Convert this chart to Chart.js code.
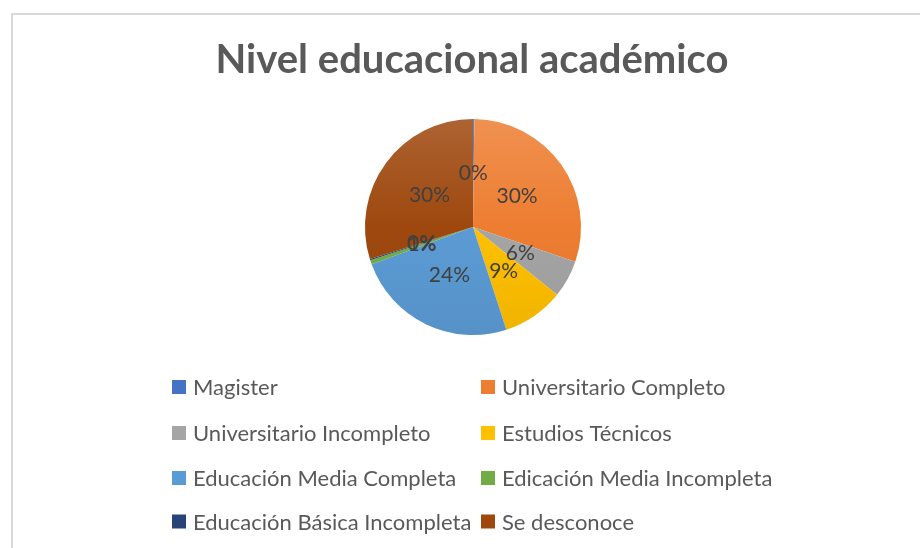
<!DOCTYPE html>
<html>
<head>
<meta charset="utf-8">
<script src="https://cdn.jsdelivr.net/npm/chart.js@4/dist/chart.umd.min.js"></script>
<style>
  html, body { margin: 0; padding: 0; background: #ffffff; }
  #wrap { position: relative; width: 920px; height: 548px; overflow: hidden; }
  #frame { position: absolute; left: 11px; top: 13px; width: 930px; height: 560px; border: 2px solid #d9d9d9; box-sizing: border-box; }
  canvas { position: absolute; left: 0; top: 0; }
</style>
</head>
<body>
<div id="wrap">
  <div id="frame"></div>
  <canvas id="c" width="920" height="548"></canvas>
</div>
<script>
const chartTitle = 'Nivel educacional académico';
const categories = [
  'Magister',
  'Universitario Completo',
  'Universitario Incompleto',
  'Estudios Técnicos',
  'Educación Media Completa',
  'Edicación Media Incompleta',
  'Educación Básica Incompleta',
  'Se desconoce'
];
const values = [0.2, 30.0, 5.6, 9.2, 24.4, 0.6, 0.2, 29.8];
const colors = ['#4472C4', '#ED7D31', '#A5A5A5', '#FFC000', '#5B9BD5', '#70AD47', '#264478', '#9E480E'];

function shade(hex, amt) {
  const n = parseInt(hex.slice(1), 16);
  let r = (n >> 16) & 255, g = (n >> 8) & 255, b = n & 255;
  if (amt >= 0) { r += (255 - r) * amt; g += (255 - g) * amt; b += (255 - b) * amt; }
  else { r *= (1 + amt); g *= (1 + amt); b *= (1 + amt); }
  return 'rgb(' + Math.round(r) + ',' + Math.round(g) + ',' + Math.round(b) + ')';
}

const FONT = 'Lato, "Open Sans", sans-serif';

const labelPlugin = {
  id: 'pctLabels',
  afterDatasetsDraw(chart) {
    const ctx = chart.ctx;
    const meta = chart.getDatasetMeta(0);
    const data = chart.data.datasets[0].data;
    const total = data.reduce((a, b) => a + b, 0);
    ctx.save();
    ctx.font = '21px ' + FONT;
    ctx.fillStyle = '#404040';
    ctx.textAlign = 'center';
    ctx.textBaseline = 'middle';
    meta.data.forEach((arc, i) => {
      const p = arc.tooltipPosition();
      ctx.fillText(Math.round(data[i] / total * 100) + '%', p.x, p.y);
    });
    ctx.restore();
  }
};

const textPlugin = {
  id: 'titleLegend',
  afterDraw(chart) {
    const ctx = chart.ctx;
    ctx.save();
    ctx.fillStyle = '#595959';
    ctx.font = 'bold 40px ' + FONT;
    ctx.textAlign = 'center';
    ctx.textBaseline = 'middle';
    ctx.fillText(chartTitle, 472, 60);
    ctx.font = '22px ' + FONT;
    ctx.textAlign = 'left';
    const colX = [172, 481];
    const rowY = [387, 433, 478, 521.5];
    categories.forEach((name, i) => {
      const x = colX[i % 2];
      const y = rowY[Math.floor(i / 2)];
      ctx.fillStyle = colors[i];
      ctx.fillRect(x, y - 7, 14, 14);
      ctx.fillStyle = '#595959';
      ctx.fillText(name, x + 21, y + 1);
    });
    ctx.restore();
  }
};

new Chart(document.getElementById('c'), {
  type: 'pie',
  data: {
    labels: categories,
    datasets: [{
      data: values,
      backgroundColor: (context) => {
        const chart = context.chart;
        const area = chart.chartArea;
        const base = colors[context.dataIndex];
        if (!area) return base;
        const g = chart.ctx.createLinearGradient(0, area.top, 0, area.bottom);
        g.addColorStop(0, shade(base, 0.15));
        g.addColorStop(0.5, base);
        g.addColorStop(1, shade(base, -0.06));
        return g;
      },
      borderWidth: 0
    }]
  },
  options: {
    responsive: false,
    animation: false,
    layout: { padding: { left: 365, right: 339, top: 119, bottom: 213 } },
    plugins: {
      legend: { display: false },
      title: { display: false },
      tooltip: { enabled: false }
    }
  },
  plugins: [labelPlugin, textPlugin]
});
</script>
</body>
</html>
